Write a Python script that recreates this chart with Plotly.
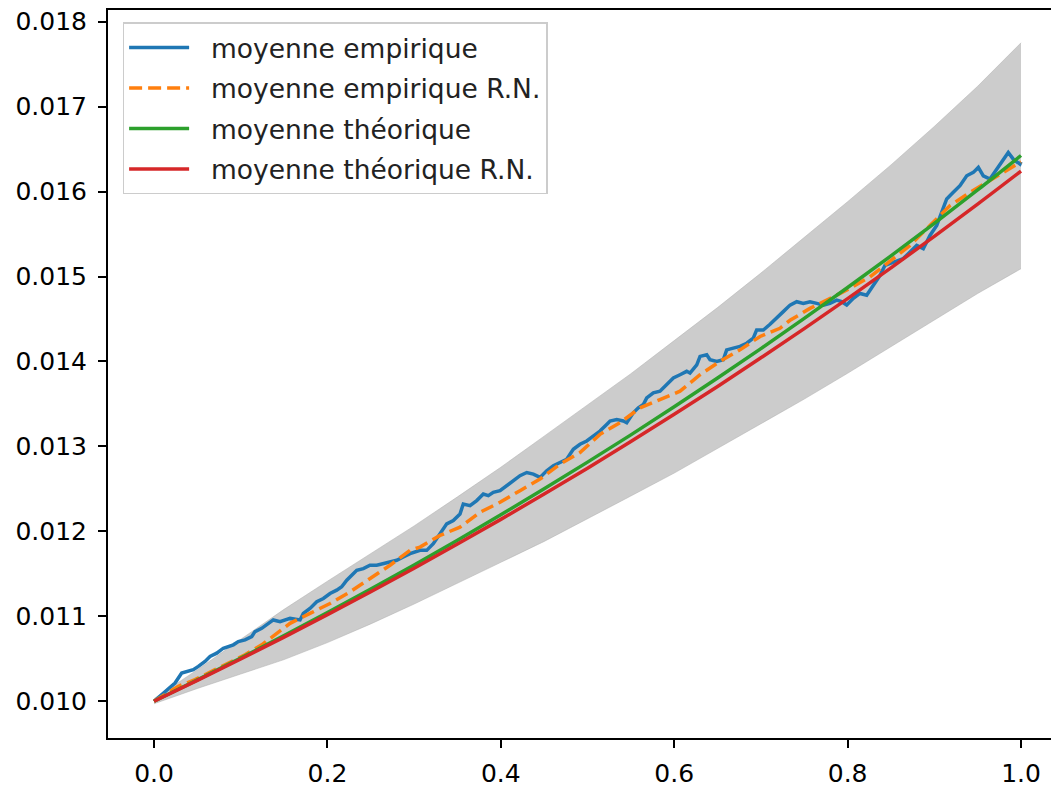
import plotly.graph_objects as go

# ---- data ----
grid_x = [0.0, 0.05, 0.1, 0.15, 0.2, 0.25, 0.3, 0.35, 0.4, 0.45, 0.5,
          0.55, 0.6, 0.65, 0.7, 0.75, 0.8, 0.85, 0.9, 0.95, 1.0]

theo = [0.010000, 0.010251, 0.010509, 0.010772, 0.011043, 0.011320, 0.011604,
        0.011896, 0.012195, 0.012501, 0.012815, 0.013136, 0.013466, 0.013805,
        0.014151, 0.014507, 0.014871, 0.015244, 0.015627, 0.016020, 0.016425]

theo_rn = [0.010000, 0.010245, 0.010497, 0.010755, 0.011019, 0.011289, 0.011566,
           0.011850, 0.012141, 0.012439, 0.012744, 0.013057, 0.013378, 0.013706,
           0.014043, 0.014387, 0.014740, 0.015102, 0.015473, 0.015853, 0.016242]

band_upper = [0.010030, 0.010371, 0.010729, 0.011082, 0.011413, 0.011740, 0.012064,
              0.012406, 0.012755, 0.013121, 0.013485, 0.013856, 0.014246, 0.014635,
              0.015041, 0.015457, 0.015881, 0.016314, 0.016767, 0.017240, 0.017752]

band_lower = [0.009970, 0.010150, 0.010320, 0.010490, 0.010690, 0.010910, 0.011144,
              0.011386, 0.011635, 0.011881, 0.012145, 0.012416, 0.012686, 0.012975,
              0.013261, 0.013557, 0.013861, 0.014174, 0.014487, 0.014800, 0.015092]

emp_x = [0.0, 0.0089, 0.0165, 0.0242, 0.0319, 0.0377, 0.0453, 0.0511, 0.0588, 0.0646,
         0.0723, 0.0799, 0.0857, 0.0915, 0.0972, 0.1050, 0.1127, 0.1165, 0.1242, 0.1318,
         0.1376, 0.1453, 0.1569, 0.1684, 0.1722, 0.1799, 0.1877, 0.1953, 0.2030, 0.2107,
         0.2165, 0.2223, 0.2280, 0.2338, 0.2414, 0.2491, 0.2569, 0.2645, 0.2722, 0.2799,
         0.2875, 0.2953, 0.3068, 0.3145, 0.3221, 0.3299, 0.3376, 0.3452, 0.3529, 0.3567,
         0.3645, 0.3722, 0.3798, 0.3856, 0.3913, 0.3991, 0.4068, 0.4144, 0.4221, 0.4299,
         0.4375, 0.4452, 0.4529, 0.4606, 0.4683, 0.4760, 0.4836, 0.4913, 0.4991, 0.5067,
         0.5144, 0.5221, 0.5260, 0.5337, 0.5413, 0.5452, 0.5528, 0.5586, 0.5644, 0.5683,
         0.5759, 0.5836, 0.5913, 0.5990, 0.6067, 0.6144, 0.6182, 0.6260, 0.6298, 0.6375,
         0.6413, 0.6490, 0.6566, 0.6605, 0.6682, 0.6759, 0.6836, 0.6912, 0.6951, 0.7028,
         0.7105, 0.7182, 0.7258, 0.7336, 0.7413, 0.7489, 0.7566, 0.7644, 0.7720, 0.7797,
         0.7874, 0.7932, 0.7990, 0.8066, 0.8143, 0.8220, 0.8296, 0.8374, 0.8431, 0.8489,
         0.8566, 0.8642, 0.8720, 0.8797, 0.8873, 0.8950, 0.9028, 0.9104, 0.9143, 0.9219,
         0.9296, 0.9374, 0.9450, 0.9508, 0.9565, 0.9642, 0.9720, 0.9796, 0.9853, 0.9911,
         0.9988, 1.0]
emp_y = [0.010000, 0.010078, 0.010137, 0.010214, 0.010331, 0.010351, 0.010371, 0.010410,
         0.010468, 0.010527, 0.010566, 0.010624, 0.010644, 0.010664, 0.010703, 0.010722,
         0.010761, 0.010820, 0.010858, 0.010917, 0.010957, 0.010937, 0.010975, 0.010957,
         0.011034, 0.011093, 0.011171, 0.011210, 0.011268, 0.011308, 0.011347, 0.011425,
         0.011484, 0.011542, 0.011561, 0.011601, 0.011601, 0.011620, 0.011639, 0.011659,
         0.011698, 0.011737, 0.011776, 0.011776, 0.011854, 0.011971, 0.012088, 0.012128,
         0.012205, 0.012322, 0.012303, 0.012362, 0.012439, 0.012420, 0.012459, 0.012479,
         0.012537, 0.012596, 0.012655, 0.012693, 0.012673, 0.012635, 0.012713, 0.012772,
         0.012810, 0.012849, 0.012966, 0.013025, 0.013064, 0.013123, 0.013181, 0.013259,
         0.013299, 0.013317, 0.013299, 0.013279, 0.013396, 0.013454, 0.013493, 0.013571,
         0.013630, 0.013650, 0.013727, 0.013806, 0.013844, 0.013884, 0.013864, 0.013961,
         0.014060, 0.014079, 0.014020, 0.014001, 0.014020, 0.014137, 0.014157, 0.014177,
         0.014215, 0.014274, 0.014371, 0.014371, 0.014438, 0.014508, 0.014587, 0.014664,
         0.014704, 0.014684, 0.014704, 0.014684, 0.014664, 0.014684, 0.014723, 0.014704,
         0.014664, 0.014743, 0.014801, 0.014781, 0.014898, 0.015015, 0.015132, 0.015152,
         0.015176, 0.015211, 0.015289, 0.015367, 0.015328, 0.015484, 0.015601, 0.015796,
         0.015913, 0.015992, 0.016069, 0.016186, 0.016226, 0.016285, 0.016186, 0.016148,
         0.016265, 0.016382, 0.016460, 0.016382, 0.016323, 0.016350]

emp_rn_x = [0.0, 0.0280, 0.0473, 0.0666, 0.0857, 0.1050, 0.1242, 0.1434, 0.1569, 0.1799,
            0.2030, 0.2261, 0.2491, 0.2722, 0.2953, 0.3068, 0.3299, 0.3529, 0.3760, 0.3991,
            0.4221, 0.4452, 0.4683, 0.4913, 0.5144, 0.5375, 0.5606, 0.5836, 0.6067, 0.6298,
            0.6528, 0.6759, 0.6990, 0.7220, 0.7336, 0.7566, 0.7797, 0.8028, 0.8258, 0.8489,
            0.8720, 0.8950, 0.9181, 0.9412, 0.9642, 0.9873, 1.0]
emp_rn_y = [0.010000, 0.010176, 0.010254, 0.010351, 0.010449, 0.010547, 0.010664, 0.010808,
            0.010917, 0.011034, 0.011151, 0.011288, 0.011444, 0.011601, 0.011776, 0.011815,
            0.011952, 0.012049, 0.012225, 0.012342, 0.012479, 0.012615, 0.012791, 0.012927,
            0.013142, 0.013279, 0.013454, 0.013552, 0.013650, 0.013844, 0.014001, 0.014137,
            0.014294, 0.014391, 0.014485, 0.014625, 0.014743, 0.014860, 0.014997, 0.015188,
            0.015367, 0.015601, 0.015835, 0.015992, 0.016128, 0.016265, 0.016350]

y_ticks = [0.010, 0.011, 0.012, 0.013, 0.014, 0.015, 0.016, 0.017, 0.018]
x_ticks = [0.0, 0.2, 0.4, 0.6, 0.8, 1.0]

FONT = "DejaVu Sans"
LW = 3.5
PAD = "\u00a0\u00a0"  # small visual gap between legend sample and label

fig = go.Figure()

# confidence band
fig.add_trace(go.Scatter(x=grid_x, y=band_lower, mode="lines",
                         line=dict(color="rgba(170,170,170,0.6)", width=0.8),
                         showlegend=False, hoverinfo="skip"))
fig.add_trace(go.Scatter(x=grid_x, y=band_upper, mode="lines", fill="tonexty",
                         fillcolor="rgba(128,128,128,0.4)",
                         line=dict(color="rgba(170,170,170,0.6)", width=0.8),
                         showlegend=False, hoverinfo="skip"))

fig.add_trace(go.Scatter(x=emp_x, y=emp_y, mode="lines", name=PAD + "moyenne empirique",
                         line=dict(color="#1f77b4", width=LW), legendgroup="a"))
fig.add_trace(go.Scatter(x=emp_rn_x, y=emp_rn_y, mode="lines",
                         name=PAD + "moyenne empirique R.N.",
                         line=dict(color="#ff7f0e", width=LW, dash="13px,6px"),
                         legendgroup="b"))
fig.add_trace(go.Scatter(x=grid_x, y=theo, mode="lines", name=PAD + "moyenne théorique",
                         line=dict(color="#2ca02c", width=LW, shape="spline"),
                         legendgroup="c"))
fig.add_trace(go.Scatter(x=grid_x, y=theo_rn, mode="lines",
                         name=PAD + "moyenne théorique R.N.",
                         line=dict(color="#d62728", width=LW, shape="spline"),
                         legendgroup="d"))

fig.update_layout(
    width=1051, height=788,
    margin=dict(l=108, r=0, t=10, b=46),
    paper_bgcolor="white", plot_bgcolor="white",
    font=dict(family=FONT, size=25, color="black"),
    showlegend=True,
    legend=dict(x=0.0155, y=0.983, xanchor="left", yanchor="top",
                bgcolor="rgba(255,255,255,0.8)", bordercolor="#cccccc", borderwidth=1.5,
                font=dict(family=FONT, size=26.5, color="#222222"),
                tracegroupgap=3, itemwidth=60),
)
fig.update_xaxes(range=[-0.0531, 1.0346], tickvals=x_ticks,
                 ticktext=[f"{v:.1f}" for v in x_ticks],
                 showgrid=False, zeroline=False, showline=True, mirror=True,
                 linecolor="black", linewidth=2, ticks="outside", ticklen=8,
                 tickwidth=2, tickcolor="black", ticklabelstandoff=4)
fig.update_yaxes(range=[0.009567, 0.018138], tickvals=y_ticks,
                 ticktext=[f"{v:.3f}" for v in y_ticks],
                 showgrid=False, zeroline=False, showline=True, mirror=False,
                 linecolor="black", linewidth=2, ticks="outside", ticklen=8,
                 tickwidth=2, tickcolor="black", ticklabelstandoff=6)

fig.write_html("out.html", config={"displayModeBar": False},
               post_script="document.body.style.margin='0px';document.body.style.overflow='hidden';")
